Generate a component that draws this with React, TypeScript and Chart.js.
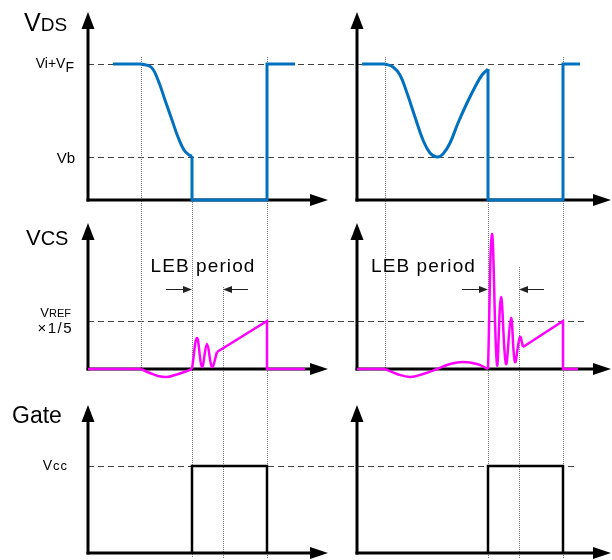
import React, { useEffect, useRef } from "react";
import { Chart, registerables } from "chart.js";
Chart.register(...registerables);

type P = [number, number];

// ---------- time events (arbitrary time units, 0 = vertical axis) ----------
const leftEvents = [5.3, 10.4, 13.5, 17.9]; // transition start, turn-on, LEB end, turn-off
const rightEvents = [2.8, 13.1, 16.2, 20.6];

// ---------- reference levels ----------
const vdsLevels = [13.6, 4.3]; // Vi+VF, Vb
const vcsLevels = [4.8]; // VREF x 1/5
const gateLevels = [8.7]; // Vcc
const levelEndRight = [22.0, 22.0]; // dashed lines end (right column time)
const vcsLevelEnd = 23.0;
const gateLevelEnd = 22.1;

// ---------- VDS waveforms ----------
const vdsLeftFlat: P[] = [[2.5, 13.6], [5.3, 13.6]];
const vdsLeftFall: P[] = [[5.3, 13.6], [6.3, 13.3], [7.0, 12.0], [7.7, 10.0], [8.4, 8.0], [9.0, 6.3], [9.6, 5.0], [10.1, 4.5], [10.4, 4.4]];
const vdsLeftStep: P[] = [[10.4, 4.4], [10.4, 0], [17.9, 0], [17.9, 13.6], [20.7, 13.6]];

const vdsRightFlat: P[] = [[0.5, 13.6], [2.8, 13.6]];
const vdsRightDip: P[] = [[2.8, 13.6], [3.6, 13.3], [4.3, 12.5], [5.0, 10.7], [5.8, 8.3], [6.6, 6.0], [7.3, 4.7], [8.0, 4.3], [8.6, 4.6], [9.3, 5.7], [10.1, 7.7], [11.0, 9.7], [11.8, 11.3], [12.5, 12.5], [13.1, 13.1]];
const vdsRightStep: P[] = [[13.1, 13.1], [13.1, 0], [20.6, 0], [20.6, 13.6], [22.3, 13.6]];

// ---------- VCS waveforms ----------
const vcsLeftFlat: P[] = [[0, 0], [5.3, 0]];
const vcsLeftDip: P[] = [[5.3, 0], [6.2, -0.4], [7.0, -0.7], [7.9, -0.8], [8.7, -0.6], [9.5, -0.35], [10.4, 0]];
const vcsLeftRing: P[] = [[10.4, 0], [10.9, 3.1], [11.4, 0.2], [11.9, 2.5], [12.4, 0.2], [12.9, 1.7]];
const vcsLeftRamp: P[] = [[12.9, 1.7], [17.9, 4.8], [17.9, 0], [21.7, 0]];

const vcsRightFlat: P[] = [[0, 0], [2.8, 0]];
const vcsRightDip: P[] = [[2.8, 0], [4.0, -0.5], [5.3, -0.8], [6.6, -0.5], [8.0, 0], [9.3, 0.5], [10.6, 0.7], [12.0, 0.5], [13.1, 0]];
const vcsRightRing: P[] = [[13.1, 0], [13.5, 13.5], [14.0, 0.4], [14.4, 7.2], [14.9, 0.5], [15.4, 5.1], [15.8, 0.7], [16.3, 3.2], [16.6, 2.2]];
const vcsRightRamp: P[] = [[16.6, 2.2], [20.6, 4.8], [20.6, 0], [22.1, 0]];

// ---------- Gate waveforms ----------
const gateLeft: P[] = [[10.4, 0], [10.4, 8.7], [17.9, 8.7], [17.9, 0]];
const gateRight: P[] = [[13.1, 0], [13.1, 8.7], [20.6, 8.7], [20.6, 0]];

// ---------- texts ----------
const lebText = "LEB period";

// ---------- layout (pixels) ----------
const W = 612, H = 560;
const PX = 10; // pixels per unit
const colAxisPx = [88, 357];
const rowAxisPx = [200, 369, 553];

const BLUE = "#0070C0";
const MAG = "#FF00FF";
const FONT = "'Liberation Sans', Arial, sans-serif";

const pts = (a: P[]) => a.map(([x, y]) => ({ x, y }));

function ds(data: P[], color: string, xs: string, ys: string, width: number, tension = 0) {
  return {
    data: pts(data),
    borderColor: color,
    backgroundColor: color,
    borderWidth: width,
    pointRadius: 0,
    tension,
    fill: false,
    xAxisID: xs,
    yAxisID: ys,
    borderJoinStyle: "miter" as const,
    borderCapStyle: "butt" as const,
  };
}

function drawText(ctx: CanvasRenderingContext2D, runs: { t: string; size: number; dy?: number }[], x: number, y: number, align: "left" | "right" | "center", spacing = 0) {
  ctx.save();
  (ctx as any).letterSpacing = spacing + "px";
  let total = 0;
  for (const r of runs) {
    ctx.font = `${r.size}px ${FONT}`;
    total += ctx.measureText(r.t).width;
  }
  let cx = align === "left" ? x : align === "right" ? x - total : x - total / 2;
  ctx.fillStyle = "#000";
  ctx.textAlign = "left";
  ctx.textBaseline = "alphabetic";
  for (const r of runs) {
    ctx.font = `${r.size}px ${FONT}`;
    ctx.fillText(r.t, cx, y + (r.dy || 0));
    cx += ctx.measureText(r.t).width;
  }
  ctx.restore();
}

const overlay = {
  id: "overlay",
  beforeDatasetsDraw(chart: any) {
    const ctx: CanvasRenderingContext2D = chart.ctx;
    const s = chart.scales;
    const xL = s.xL, xR = s.xR;
    const ys = [s.yT, s.yM, s.yB];
    ctx.save();
    // dashed reference lines
    ctx.strokeStyle = "#444";
    ctx.lineWidth = 1;
    ctx.setLineDash([6, 4]);
    const hline = (y: number, x1: number, x2: number) => {
      ctx.beginPath();
      ctx.moveTo(x1, Math.round(y) + 0.5);
      ctx.lineTo(x2, Math.round(y) + 0.5);
      ctx.stroke();
    };
    vdsLevels.forEach((v, i) => hline(s.yT.getPixelForValue(v), xL.getPixelForValue(0), xR.getPixelForValue(levelEndRight[i])));
    vcsLevels.forEach((v) => hline(s.yM.getPixelForValue(v), xL.getPixelForValue(0), xR.getPixelForValue(vcsLevelEnd)));
    gateLevels.forEach((v) => hline(s.yB.getPixelForValue(v), xL.getPixelForValue(0), xR.getPixelForValue(gateLevelEnd)));

    // dotted event lines
    ctx.setLineDash([1, 1]);
    ctx.strokeStyle = "#777";
    const vline = (x: number, y1: number, y2: number) => {
      ctx.beginPath();
      ctx.moveTo(Math.round(x) + 0.5, y1);
      ctx.lineTo(Math.round(x) + 0.5, y2);
      ctx.stroke();
    };
    const cols = [
      { x: xL, ev: leftEvents, onTop: 4.4, lebTop: 8.2 },
      { x: xR, ev: rightEvents, onTop: 13.1, lebTop: 10.2 },
    ];
    const bottom = s.yB.getPixelForValue(-0.5);
    for (const c of cols) {
      vline(c.x.getPixelForValue(c.ev[0]), s.yT.getPixelForValue(14.3), s.yM.getPixelForValue(0));
      vline(c.x.getPixelForValue(c.ev[1]), s.yT.getPixelForValue(c.onTop), bottom);
      vline(c.x.getPixelForValue(c.ev[2]), s.yM.getPixelForValue(c.lebTop), bottom);
      vline(c.x.getPixelForValue(c.ev[3]), s.yT.getPixelForValue(14.3), bottom);
    }
    ctx.setLineDash([]);

    // axes with arrows
    ctx.strokeStyle = "#000";
    ctx.fillStyle = "#000";
    ctx.lineWidth = 3;
    const yTips = [18.8, 14.6, 14.8];
    const xTips = [24.0, 25.4];
    [xL, xR].forEach((xs, ci) => {
      ys.forEach((yS, ri) => {
        const x0 = xs.getPixelForValue(0);
        const y0 = yS.getPixelForValue(0);
        const yt = yS.getPixelForValue(yTips[ri]);
        const xt = xs.getPixelForValue(xTips[ci]);
        ctx.beginPath();
        ctx.moveTo(x0, y0 + 1.5);
        ctx.lineTo(x0, yt + 14);
        ctx.stroke();
        ctx.beginPath();
        ctx.moveTo(x0 - 1.5, y0);
        ctx.lineTo(xt - 14, y0);
        ctx.stroke();
        ctx.beginPath();
        ctx.moveTo(x0, yt);
        ctx.lineTo(x0 - 6.5, yt + 17);
        ctx.lineTo(x0 + 6.5, yt + 17);
        ctx.closePath();
        ctx.fill();
        ctx.beginPath();
        ctx.moveTo(xt, y0);
        ctx.lineTo(xt - 18, y0 - 6);
        ctx.lineTo(xt - 18, y0 + 6);
        ctx.closePath();
        ctx.fill();
      });
    });
    ctx.restore();
  },
  afterDatasetsDraw(chart: any) {
    const ctx: CanvasRenderingContext2D = chart.ctx;
    const s = chart.scales;
    // row titles
    drawText(ctx, [{ t: "V", size: 25 }, { t: "DS", size: 19 }], 24, 31, "left");
    drawText(ctx, [{ t: "V", size: 22 }, { t: "CS", size: 20 }], 26, 245, "left");
    drawText(ctx, [{ t: "Gate", size: 23 }], 12, 423, "left");
    // level labels
    const yV = s.yT.getPixelForValue(vdsLevels[0]);
    drawText(ctx, [{ t: "Vi+V", size: 14 }, { t: "F", size: 14, dy: 4 }], 74, yV + 4, "right");
    drawText(ctx, [{ t: "Vb", size: 15 }], 75, s.yT.getPixelForValue(vdsLevels[1]) + 6, "right");
    const yR = s.yM.getPixelForValue(vcsLevels[0]);
    drawText(ctx, [{ t: "V", size: 13 }, { t: "REF", size: 11 }], 71, yR - 4, "right");
    drawText(ctx, [{ t: "×1/5", size: 15 }], 73, yR + 12, "right", 1.5);
    drawText(ctx, [{ t: "V", size: 14 }, { t: "cc", size: 13 }], 68, s.yB.getPixelForValue(gateLevels[0]) + 4, "right", 1);

    // LEB annotations
    const lebY = s.yM.getPixelForValue(9.7);
    drawText(ctx, [{ t: lebText, size: 19 }], s.xL.getPixelForValue(11.5), lebY, "center", 1.1);
    drawText(ctx, [{ t: lebText, size: 19 }], s.xR.getPixelForValue(6.65), lebY, "center", 1.1);
    const arrY = Math.round(s.yM.getPixelForValue(8.0)) + 0.5;
    ctx.save();
    ctx.strokeStyle = "#222";
    ctx.fillStyle = "#222";
    ctx.lineWidth = 1;
    const arrow = (from: number, to: number) => {
      const dir = Math.sign(to - from);
      ctx.beginPath();
      ctx.moveTo(from, arrY);
      ctx.lineTo(to - dir * 8, arrY);
      ctx.stroke();
      ctx.beginPath();
      ctx.moveTo(to, arrY);
      ctx.lineTo(to - dir * 9, arrY - 3.5);
      ctx.lineTo(to - dir * 9, arrY + 3.5);
      ctx.closePath();
      ctx.fill();
    };
    [[s.xL, leftEvents], [s.xR, rightEvents]].forEach(([xs, ev]: any) => {
      arrow(xs.getPixelForValue(ev[1] - 2.6), xs.getPixelForValue(ev[1]));
      arrow(xs.getPixelForValue(ev[2] + 2.5), xs.getPixelForValue(ev[2]));
    });
    ctx.restore();
  },
};

export default function App() {
  const ref = useRef<HTMLCanvasElement>(null);
  useEffect(() => {
    if (!ref.current) return;
    const lin = (min: number, max: number) => ({ type: "linear" as const, display: false, min, max });
    const chart = new Chart(ref.current, {
      type: "line",
      data: {
        datasets: [
          ds(vdsLeftFlat, BLUE, "xL", "yT", 3),
          ds(vdsLeftFall, BLUE, "xL", "yT", 3, 0.4),
          ds(vdsLeftStep, BLUE, "xL", "yT", 3),
          ds(vdsRightFlat, BLUE, "xR", "yT", 3),
          ds(vdsRightDip, BLUE, "xR", "yT", 3, 0.4),
          ds(vdsRightStep, BLUE, "xR", "yT", 3),
          ds(vcsLeftFlat, MAG, "xL", "yM", 2.5),
          ds(vcsLeftDip, MAG, "xL", "yM", 2.5, 0.4),
          ds(vcsLeftRing, MAG, "xL", "yM", 2.5, 0.4),
          ds(vcsLeftRamp, MAG, "xL", "yM", 2.5),
          ds(vcsRightFlat, MAG, "xR", "yM", 2.5),
          ds(vcsRightDip, MAG, "xR", "yM", 2.5, 0.4),
          ds(vcsRightRing, MAG, "xR", "yM", 2.5, 0.4),
          ds(vcsRightRamp, MAG, "xR", "yM", 2.5),
          ds(gateLeft, "#000", "xL", "yB", 2.5),
          ds(gateRight, "#000", "xR", "yB", 2.5),
        ] as any,
      },
      options: {
        animation: false,
        responsive: false,
        devicePixelRatio: 1,
        layout: { padding: 0 },
        plugins: { legend: { display: false }, tooltip: { enabled: false }, title: { display: false } },
        scales: {
          xL: lin(-colAxisPx[0] / PX, (W - colAxisPx[0]) / PX),
          xR: lin(-colAxisPx[1] / PX, (W - colAxisPx[1]) / PX),
          yT: lin((rowAxisPx[0] - H) / PX, rowAxisPx[0] / PX),
          yM: lin((rowAxisPx[1] - H) / PX, rowAxisPx[1] / PX),
          yB: lin((rowAxisPx[2] - H) / PX, rowAxisPx[2] / PX),
        } as any,
        events: [],
      },
      plugins: [overlay],
    });
    return () => chart.destroy();
  }, []);
  return (
    <div style={{ position: "fixed", left: 0, top: 0, width: W, height: H, background: "#fff" }}>
      <canvas ref={ref} width={W} height={H} style={{ width: W, height: H, display: "block" }} />
    </div>
  );
}
